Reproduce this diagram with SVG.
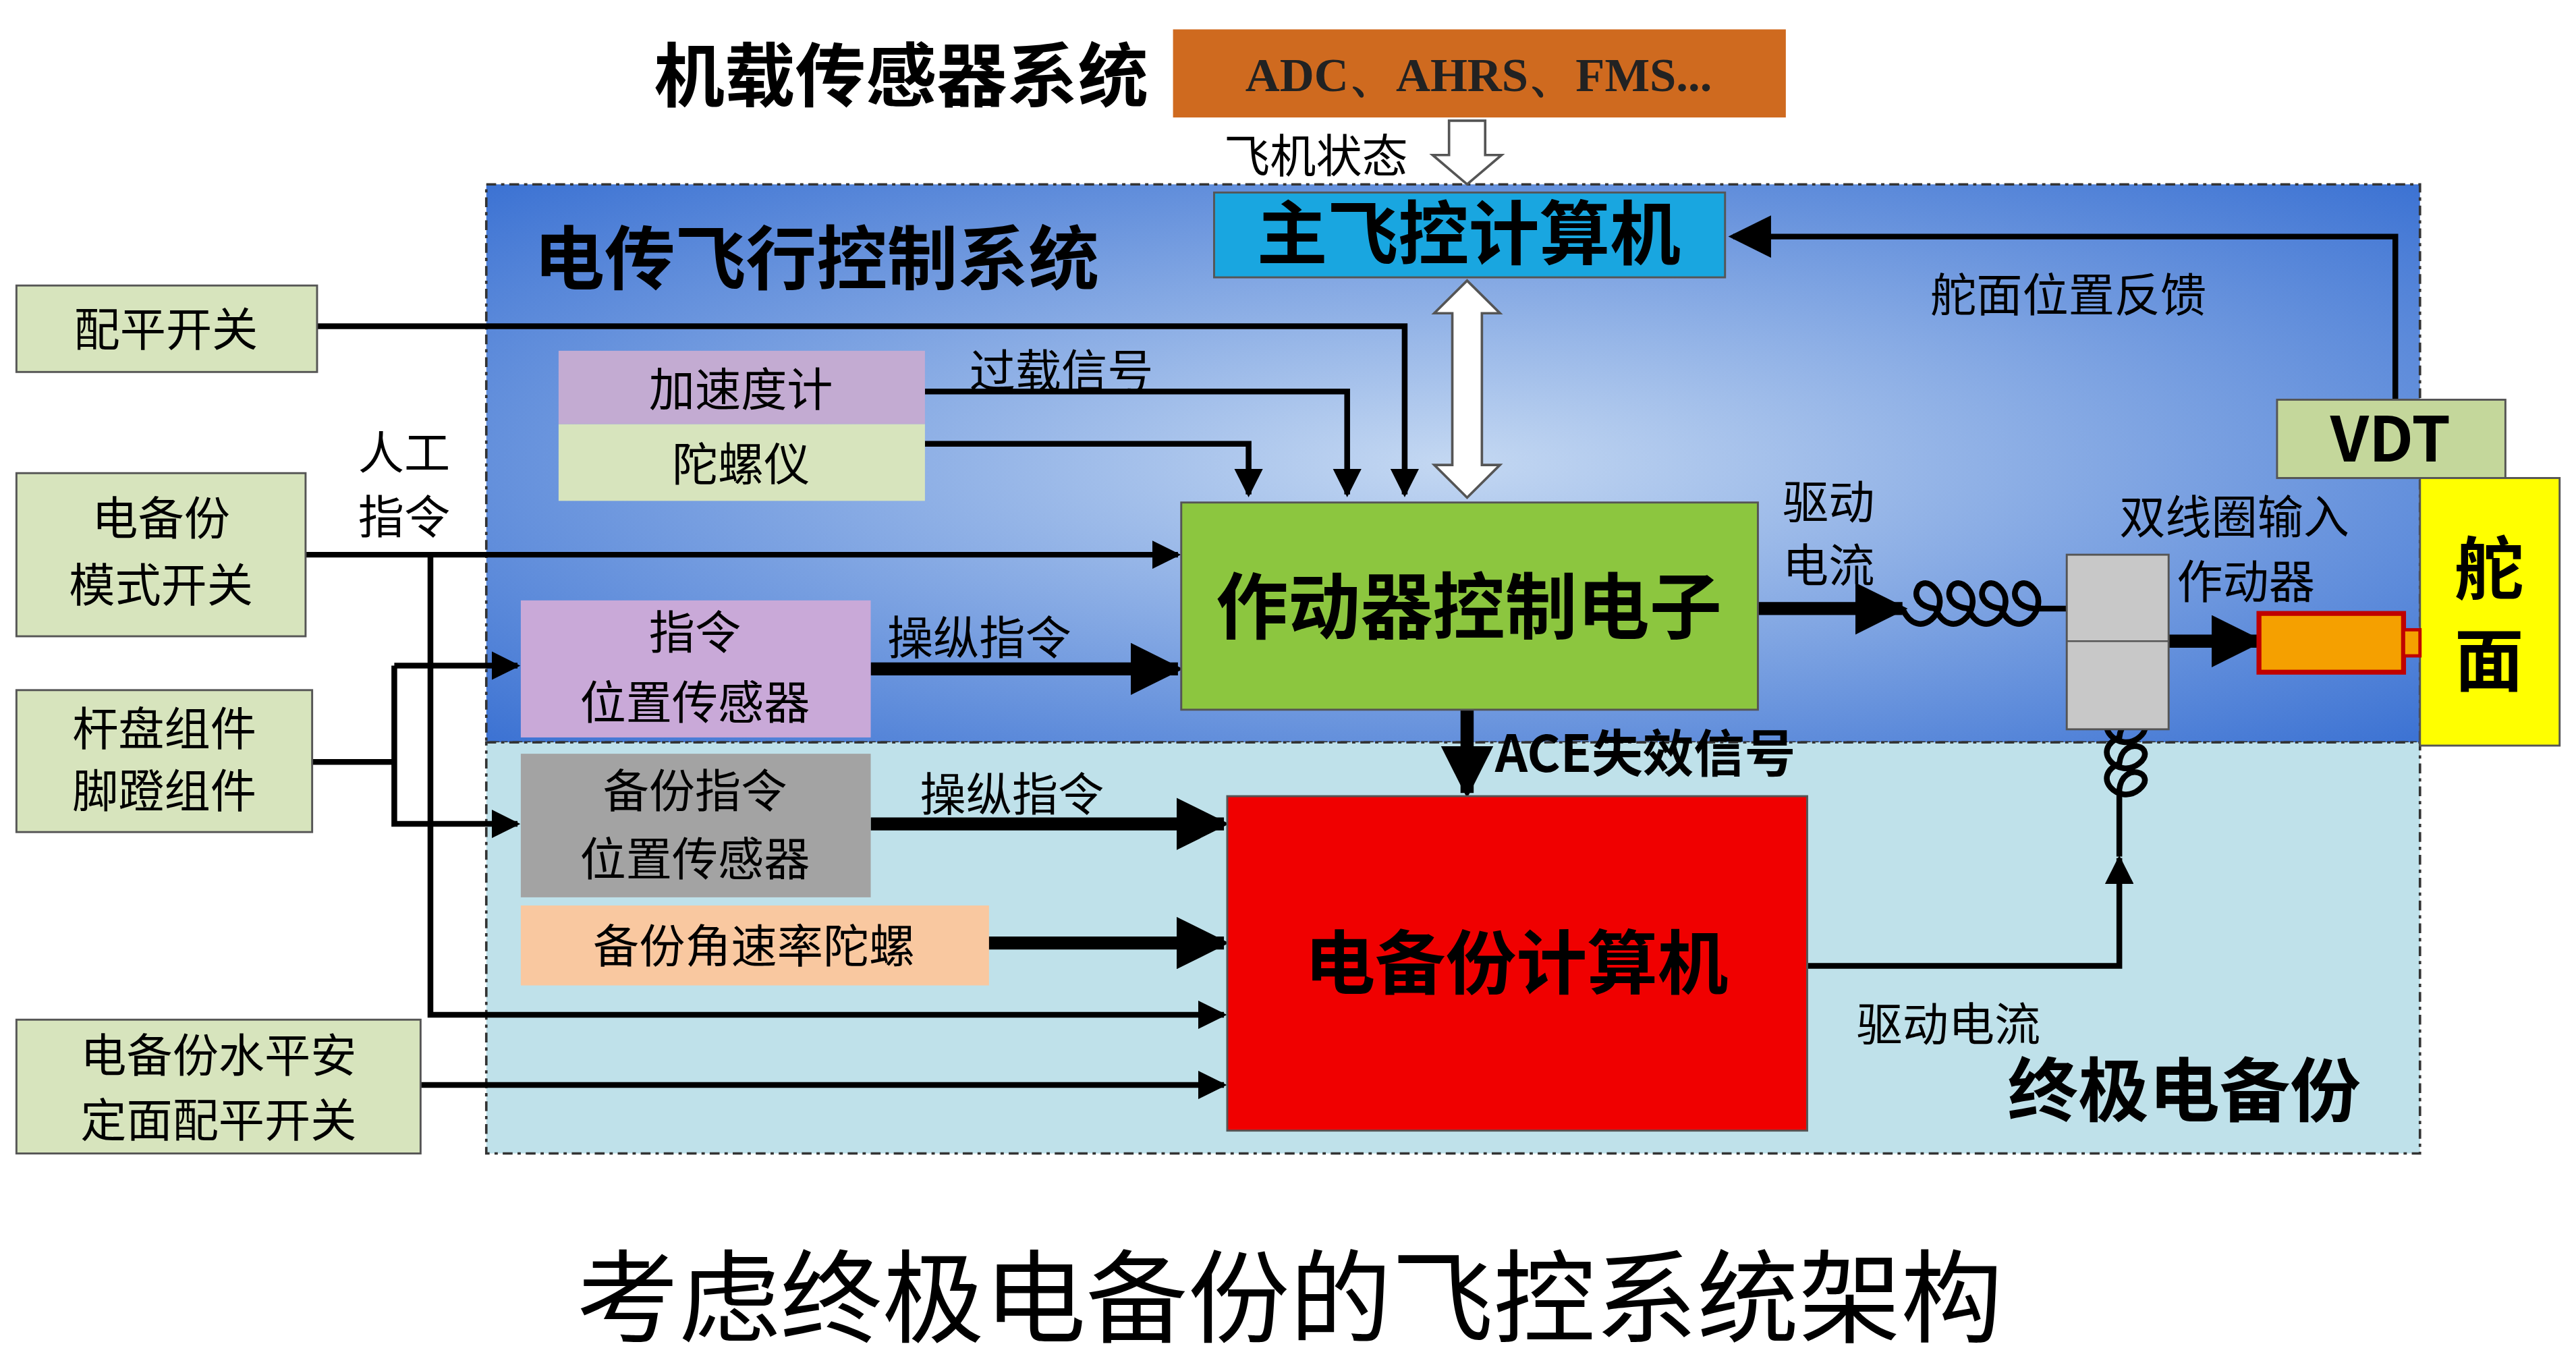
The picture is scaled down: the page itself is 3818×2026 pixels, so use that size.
<svg xmlns="http://www.w3.org/2000/svg" width="3818" height="2026" viewBox="0 0 3818 2026">
<defs>
<radialGradient id="bg" cx="0.5" cy="0.5" r="0.7"><stop offset="0" stop-color="#c4d8f2"/><stop offset="1" stop-color="#3d73d3"/></radialGradient>
<marker id="a" viewBox="0 0 10 10" refX="9" refY="5" markerWidth="5" markerHeight="5" orient="auto"><path d="M0,0L10,5L0,10z" fill="#000"/></marker>
<marker id="b" viewBox="0 0 10 10" refX="9" refY="5" markerWidth="4" markerHeight="4" orient="auto"><path d="M0,0L10,5L0,10z" fill="#000"/></marker>
<style>
text{font-family:"Noto Sans CJK SC","Liberation Sans",sans-serif;fill:#000}
.n{stroke:#555;stroke-width:1.2}
.t{font-size:28px}
.b{font-weight:bold}
.l{fill:none;stroke:#000;stroke-width:3.5;marker-end:url(#a)}
.k{fill:none;stroke:#000;stroke-width:8;marker-end:url(#b)}
.p{fill:none;stroke:#000;stroke-width:3.5}
</style>
</defs>
<rect width="3818" height="2026" fill="#fff"/>
<g transform="scale(2.435,2.418)">
<g id="regions">
<rect x="296" y="113" width="1177" height="342" fill="url(#bg)" stroke="#333" stroke-dasharray="6,3,2,3" stroke-width="1.5"/>
<rect x="296" y="455" width="1177" height="252" fill="#bfe1ea" stroke="#333" stroke-dasharray="6,3,2,3" stroke-width="1.5"/>
<text x="325" y="174" font-size="43" class="b">电传飞行控制系统</text>
<text x="1222" y="684" font-size="43" class="b">终极电备份</text>
<text x="398" y="62" font-size="43" class="b">机载传感器系统</text>
<text x="785" y="818" font-size="62" text-anchor="middle">考虑终极电备份的飞控系统架构</text>
</g>
<g id="connectors">
<path class="l" d="M193,200H855V303"/>
<path class="l" d="M563,240H820V303"/>
<path class="l" d="M563,272H760V303"/>
<path class="l" d="M186,340H717"/>
<path class="l" d="M262,340V622H745"/>
<path class="p" d="M190,467H240"/>
<path class="l" d="M240,408V505H315"/>
<path class="l" d="M240,408H315"/>
<path class="k" d="M530,410H717"/>
<path class="k" d="M530,505H745"/>
<path class="k" d="M598,578H745"/>
<path class="l" d="M256,665H745"/>
<path class="k" d="M893,435V486"/>
<path class="k" d="M1070,373H1158"/>
<path class="k" d="M1320,393H1375"/>
<path class="l" d="M1100,592H1290V526"/>
<path class="p" d="M1458,245V145H1055"/>
<path d="M1052,145L1078,132V158Z"/>
<path class="p" d="M1158,373c10,22 30,0 20,-12s-20,10 0,12c10,22 30,0 20,-12s-20,10 0,12c10,22 30,0 20,-12s-20,10 0,12c10,22 30,0 20,-12s-20,10 0,12H1285"/>
<path class="p" d="M1290,420c-18,8 0,26 12,16s-10,-18 -12,0c-18,8 0,26 12,16s-10,-18 -12,0c-18,8 0,26 12,16s-10,-18 -12,0c-18,8 0,26 12,16s-10,-18 -12,0V525"/>
<path d="M882,74H904V95H914L893,113L872,95H882Z" fill="#fff" stroke="#555" stroke-width="1.5"/>
<path d="M893,172L913,192H902V285H913L893,305L873,285H884V192H873Z" fill="#fff" stroke="#555" stroke-width="1.5"/>
<text x="745" y="106" class="t">飞机状态</text>
<text x="1175" y="191" class="t">舵面位置反馈</text>
<text x="590" y="238" class="t">过载信号</text>
<text x="218" y="288" class="t">人工</text>
<text x="218" y="327" class="t">指令</text>
<text x="540" y="401" class="t">操纵指令</text>
<text x="560" y="497" class="t">操纵指令</text>
<text x="910" y="473" font-size="31" class="b">ACE失效信号</text>
<text x="1085" y="318" class="t">驱动</text>
<text x="1085" y="357" class="t">电流</text>
<text x="1290" y="327" class="t">双线圈输入</text>
<text x="1325" y="367" class="t">作动器</text>
<text x="1130" y="638" class="t">驱动电流</text>
</g>
<g id="sensors"><rect x="714" y="18" width="373" height="54" fill="#cf6a1f"/><text x="900" y="56" text-anchor="middle" font-size="29" class="b" style="font-family:'Liberation Serif',serif;fill:#222">ADC、AHRS、FMS...</text></g>
<g id="fcc"><rect class="n" x="739" y="118" width="311" height="52" fill="#19a6e0"/><text x="894" y="159" text-anchor="middle" font-size="43" class="b">主飞控计算机</text></g>
<g id="trim"><rect class="n" x="10" y="175" width="183" height="53" fill="#d7e4bd"/><text x="101" y="212" text-anchor="middle" class="t">配平开关</text></g>
<g id="modesw"><rect class="n" x="10" y="290" width="176" height="100" fill="#d7e4bd"/><text x="98" y="328" text-anchor="middle" class="t">电备份</text><text x="98" y="369" text-anchor="middle" class="t">模式开关</text></g>
<g id="stick"><rect class="n" x="10" y="423" width="180" height="87" fill="#d7e4bd"/><text x="100" y="457" text-anchor="middle" class="t">杆盘组件</text><text x="100" y="495" text-anchor="middle" class="t">脚蹬组件</text></g>
<g id="stabtrim"><rect class="n" x="10" y="625" width="246" height="82" fill="#d7e4bd"/><text x="133" y="657" text-anchor="middle" class="t">电备份水平安</text><text x="133" y="697" text-anchor="middle" class="t">定面配平开关</text></g>
<g id="accel"><rect x="340" y="215" width="223" height="45" fill="#c3abd2"/><text x="451" y="249" text-anchor="middle" class="t">加速度计</text></g>
<g id="gyro"><rect x="340" y="260" width="223" height="47" fill="#d7e4bd"/><text x="451" y="295" text-anchor="middle" class="t">陀螺仪</text></g>
<g id="cmdsensor"><rect x="317" y="368" width="213" height="84" fill="#c9a9d8"/><text x="423" y="398" text-anchor="middle" class="t">指令</text><text x="423" y="441" text-anchor="middle" class="t">位置传感器</text></g>
<g id="bkcmd"><rect x="317" y="462" width="213" height="88" fill="#a3a3a3"/><text x="423" y="495" text-anchor="middle" class="t">备份指令</text><text x="423" y="537" text-anchor="middle" class="t">位置传感器</text></g>
<g id="bkgyro"><rect x="317" y="555" width="285" height="49" fill="#f9c8a0"/><text x="459" y="590" text-anchor="middle" class="t">备份角速率陀螺</text></g>
<g id="ace"><rect class="n" x="719" y="308" width="351" height="127" fill="#8cc63f"/><text x="894" y="388" text-anchor="middle" font-size="44" class="b">作动器控制电子</text></g>
<g id="backup"><rect class="n" x="747" y="488" width="353" height="205" fill="#f00000"/><text x="923" y="606" text-anchor="middle" font-size="43" class="b">电备份计算机</text></g>
<g id="vdt"><rect class="n" x="1386" y="245" width="139" height="48" fill="#c4d79b"/><text x="1455" y="283" text-anchor="middle" font-size="38" class="b">VDT</text></g>
<g id="surface"><rect class="n" x="1473" y="293" width="85" height="164" fill="#ffff00"/><text x="1515" y="364" text-anchor="middle" font-size="42" class="b">舵</text><text x="1515" y="420" text-anchor="middle" font-size="42" class="b">面</text></g>
<g id="actuator"><rect class="n" x="1258" y="340" width="62" height="107" fill="#c8c8c8"/><line x1="1258" y1="393" x2="1320" y2="393" stroke="#555"/><rect x="1375" y="376" width="88" height="36" fill="#f5a000" stroke="#c00000" stroke-width="3"/><rect x="1463" y="386" width="10" height="16" fill="#f5a000" stroke="#c00000" stroke-width="2"/></g>
</g>
</svg>
